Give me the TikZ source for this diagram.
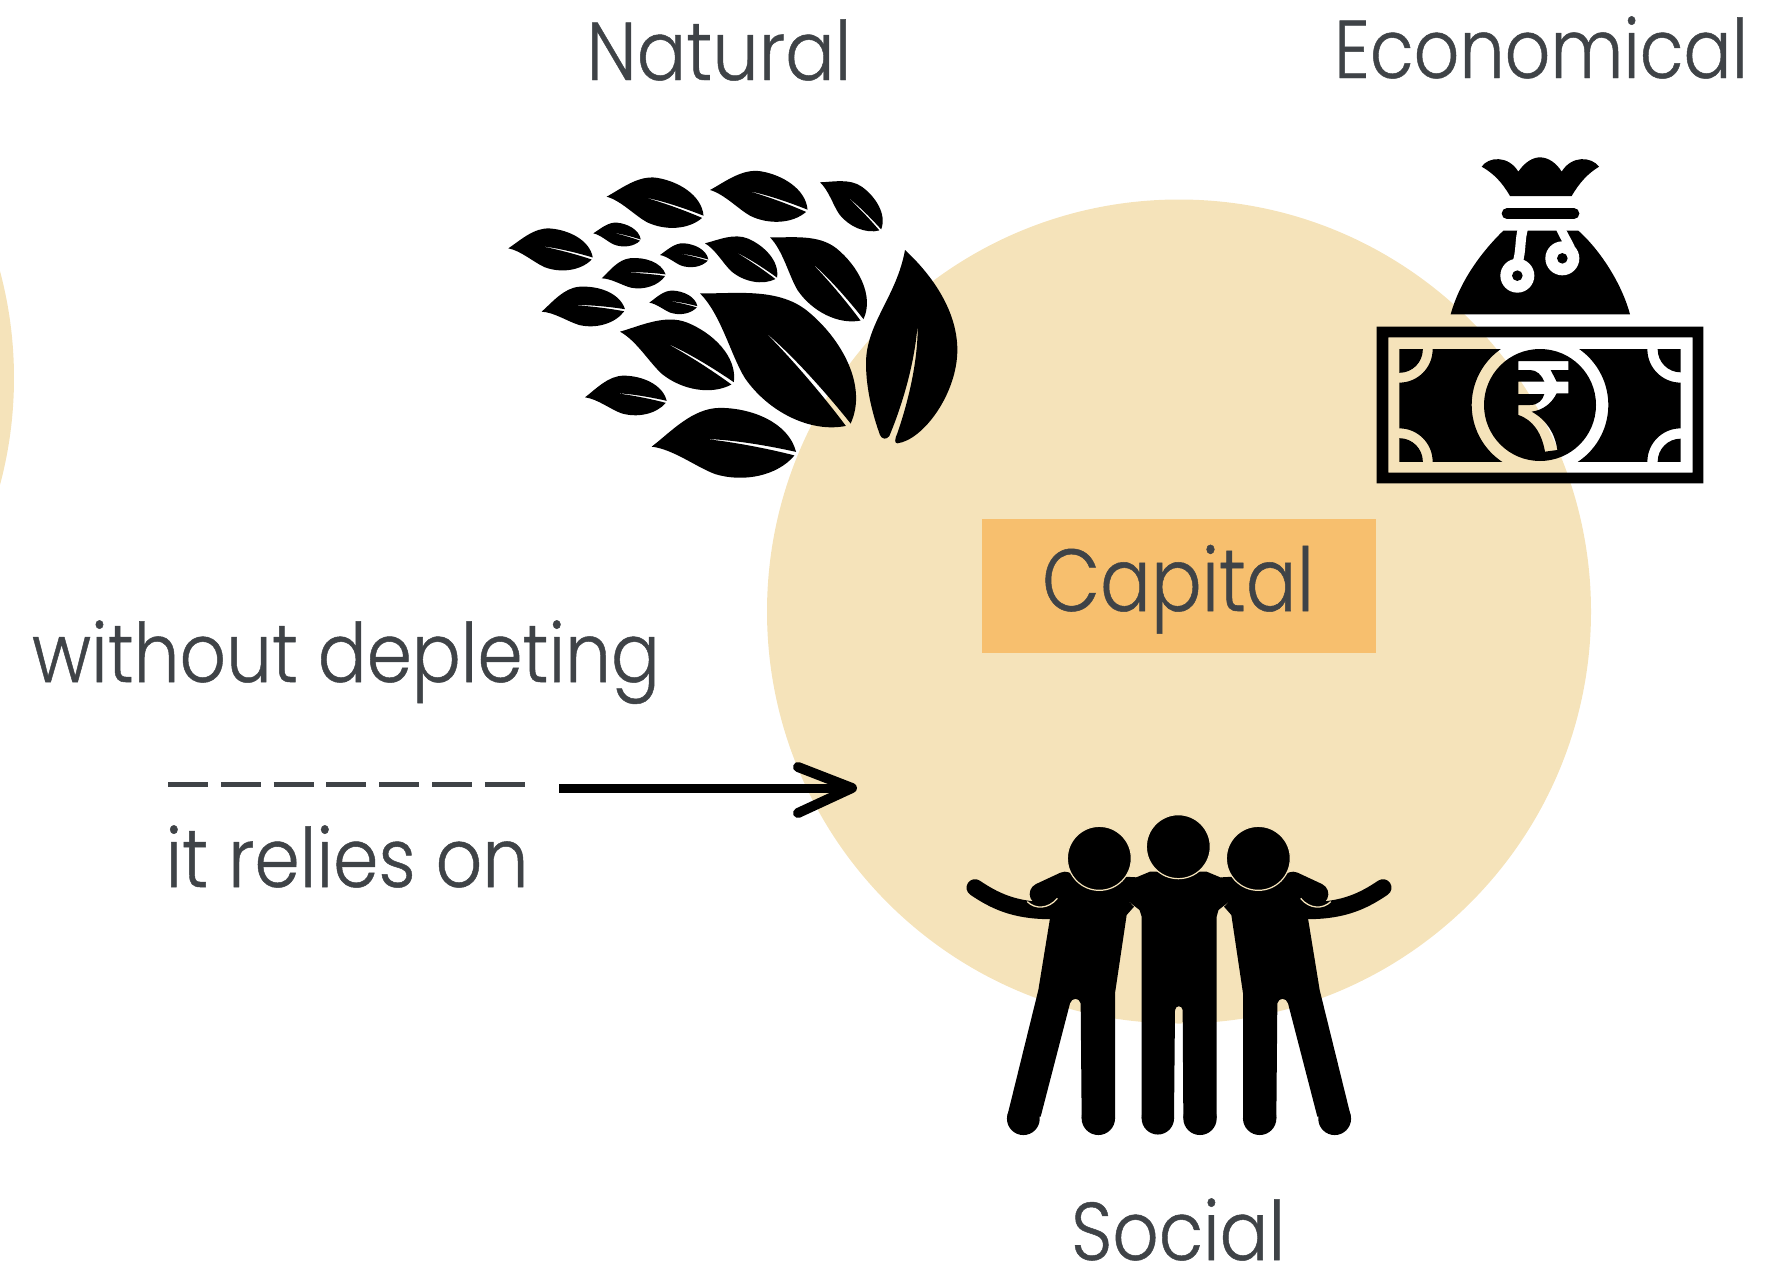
\documentclass[tikz,border=0pt]{standalone}
\usepackage{graphicx}
\usepackage{fontspec}
\setmainfont{Poppins}[UprightFont=* Light,RawFeature={embolden=0.6}]
\definecolor{beige}{HTML}{F5E3BA}
\definecolor{capbox}{HTML}{F7BF6E}
\definecolor{ink}{HTML}{3F4347}
\newcommand\fitw[3]{\resizebox{#1pt}{\height}{\fontsize{#2pt}{#2pt}\selectfont #3}}
\newcommand\leaf[4]{%
  \pgfmathsetmacro\ux{(#3-#1)/300}%
  \pgfmathsetmacro\uy{-(#4-#2)/300}%
  \pgfmathsetmacro\tx{490+#1/3}%
  \pgfmathsetmacro\ty{150+#2/3}%
  \begin{scope}[cm={\ux,\uy,-\uy,\ux,(\tx,\ty)},x=1pt,y=1pt]
    \fill[black] (0,0) .. controls (13,11) and (27,28) .. (46,29)
      .. controls (68,30) and (94,21) .. (100,1)
      .. controls (80,4.5) and (55,7.5) .. (37,7)
      .. controls (55,6) and (80,2.5) .. (99,-1.5)
      .. controls (88,-16) and (65,-22) .. (45,-17)
      .. controls (32,-13) and (15,-1) .. (0,0) -- cycle;
  \end{scope}}
\newcommand\personbody{%
  \fill[black] (300,385) -- (265,600) -- (172.5,975) -- (272,980)
    -- (360,640) .. controls (365,622) and (388,622) .. (392,640)
    -- (395,985) -- (495,985)
    -- (495,610) -- (530,375) -- (552,350) -- (528,328) -- (575,365)
    -- (600,300) -- (560,262) -- (340,250) -- (300,300) -- cycle;
  \fill[black] (220,986) circle[radius=16.4pt];
  \fill[black] (445,985) circle[radius=16.7pt];
  \draw[black,line width=17pt,line cap=round] (75,293)
    .. controls (130,330) and (190,362) .. (300,362);
  \draw[black,line width=22pt,line cap=round] (272,312) -- (345,278);
  \draw[beige,line width=1.3pt] (232,335) .. controls (255,358) and (295,358) .. (322,325);}
\tikzset{
  label/.style={anchor=base,inner sep=0pt,text=ink},
  head/.style={fill=black,draw=beige,line width=1.2pt},
}
\begin{document}
\begin{tikzpicture}[x=1pt,y=-1pt]
\useasboundingbox (0,0) rectangle (1791,1269);
\begin{scope}
  \clip (0,0) rectangle (1791,1269);
  \fill[beige] (-398,378) circle[radius=412pt];
\end{scope}
\node[circle,fill=beige,minimum size=824pt,inner sep=0pt] (capitalcircle) at (1179,611.5) {};
\node[fill=capbox,minimum width=394pt,minimum height=134pt,inner sep=0pt] (capbox) at (1179,586) {};
\node[label] (capital) at (1178,611) {\fitw{272}{88}{Capital}};
\node[label] (natural) at (719,80) {\fitw{265}{82}{Natural}};
\node[label] (economical) at (1541,78) {\fitw{414}{82}{Economical}};
\node[label] (social) at (1178,1260) {\fitw{214}{82}{Social}};
\node[label] (without) at (346,682) {\fitw{628}{82}{without depleting}};
\node[label] (relies) at (347,887) {\fitw{363}{82}{it relies on}};
\coordinate (dashA) at (168,784);
\coordinate (dashB) at (525,784);
\draw[ink,line width=5pt,dash pattern=on 40pt off 12.8pt] (dashA) -- (dashB);
\coordinate (arrowA) at (559,788);
\coordinate (arrowB) at (852,788);
\coordinate (barbA) at (798,767);
\coordinate (barbB) at (798,813);
\draw[black,line width=9pt] (arrowA) -- (arrowB);
\draw[black,line width=10pt,line cap=round,line join=round] (barbA) -- (arrowB) -- (barbB);
% leaves
\leaf{350}{140}{640}{200}
\leaf{660}{120}{952}{182}
\leaf{990}{97}{1172}{240}
\leaf{55}{295}{308}{325}
\leaf{310}{250}{452}{270}
\leaf{510}{315}{655}{330}
\leaf{335}{385}{527}{375}
\leaf{645}{280}{860}{385}
\leaf{840}{262}{1118}{510}
\leaf{155}{485}{405}{480}
\leaf{478}{458}{622}{470}
\leaf{390}{545}{730}{700}
\leaf{630}{430}{1078}{825}
\leaf{285}{742}{530}{755}
\leaf{485}{890}{918}{910}
\begin{scope}[shift={(490,150)},x=.33333pt,y=-.33333pt]
  \fill[black] (1245,300) .. controls (1310,360) and (1402,470) .. (1402,600)
    .. controls (1402,730) and (1300,870) .. (1222,880)
    .. controls (1212,880) and (1215,865) .. (1222,850)
    .. controls (1260,740) and (1285,620) .. (1283,520)
    .. controls (1275,640) and (1235,770) .. (1198,858)
    .. controls (1190,870) and (1175,868) .. (1170,855)
    .. controls (1150,800) and (1128,720) .. (1128,640)
    .. controls (1128,520) and (1220,440) .. (1245,300) -- cycle;
\end{scope}
% money bag and note
\begin{scope}[shift={(1360,140)},x=.33333pt,y=-.33333pt]
  \fill[black] (365,80) .. controls (385,50) and (445,45) .. (475,95)
    .. controls (495,65) and (520,52) .. (540,52)
    .. controls (565,52) and (590,70) .. (605,95)
    .. controls (635,45) and (695,50) .. (717,80)
    .. controls (685,100) and (660,125) .. (635,168) -- (450,168)
    .. controls (425,125) and (400,100) .. (365,80) -- cycle;
  \draw[black,line width=10.7pt,line cap=round] (441,221) -- (642,221);
  \fill[black] (272,523) .. controls (300,420) and (370,330) .. (430,272) -- (655,272)
    .. controls (720,330) and (785,430) .. (810,523) -- cycle;
  \draw[white,line width=10pt] (490,262) .. controls (478,300) and (485,330) .. (472,370);
  \draw[white,line width=9pt] (600,262) .. controls (610,285) and (620,300) .. (632,325);
  \fill[white] (472,407) circle[radius=17pt];
  \fill[white] (607,355) circle[radius=17pt];
  \fill[black] (472,407) circle[radius=5.3pt];
  \fill[black] (607,355) circle[radius=5.3pt];
  \fill[black,even odd rule] (50,560) rectangle (1030,1030) (85,592) rectangle (998,998);
  \begin{scope}
    \clip (118,628) rectangle (962,965);
    \fill[black,even odd rule] (0,500) rectangle (1100,1100)
      (540,795) circle[radius=68.3pt] (540,795) circle[radius=56pt]
      (118,628) circle[radius=33.3pt] (118,628) circle[radius=23.5pt]
      (962,628) circle[radius=33.3pt] (962,628) circle[radius=23pt]
      (118,965) circle[radius=33.3pt] (118,965) circle[radius=23.5pt]
      (962,965) circle[radius=33.3pt] (962,965) circle[radius=23pt]
      (475,663) -- (625,663) -- (625,690) -- (572,690) -- (590,725) -- (625,725) -- (625,760) -- (590,760)
      .. controls (575,790) and (550,810) .. (515,815)
      .. controls (560,840) and (585,880) .. (592,930) -- (555,935)
      .. controls (545,880) and (520,840) .. (475,825) -- (475,795) -- (510,795)
      .. controls (535,795) and (548,780) .. (553,762) -- (475,762) -- (475,725) -- (553,725)
      .. controls (545,705) and (530,690) .. (510,690) -- (475,690) -- cycle;
  \end{scope}
\end{scope}
% people
\begin{scope}[shift={(950,790)},x=.33333pt,y=-.33333pt]
  \fill[black] (575,380) -- (575,985) -- (672,985)
    -- (675,660) .. controls (677,645) and (696,645) .. (698,660)
    -- (700,985) -- (800,985)
    -- (800,380) -- (830,270) -- (770,245) -- (600,245) -- (540,270) -- cycle;
  \fill[black] (623.5,985) circle[radius=16.2pt];
  \fill[black] (750,985) circle[radius=16.7pt];
  \personbody
\end{scope}
\begin{scope}[shift={(1408,790)},x=-.33333pt,y=-.33333pt]
  \personbody
\end{scope}
\begin{scope}[shift={(950,790)},x=.33333pt,y=-.33333pt]
  \draw[head] (448,205) circle[radius=32pt];
  \draw[head] (685,170) circle[radius=32pt];
  \draw[head] (925,205) circle[radius=32pt];
\end{scope}
\end{tikzpicture}
\end{document}
